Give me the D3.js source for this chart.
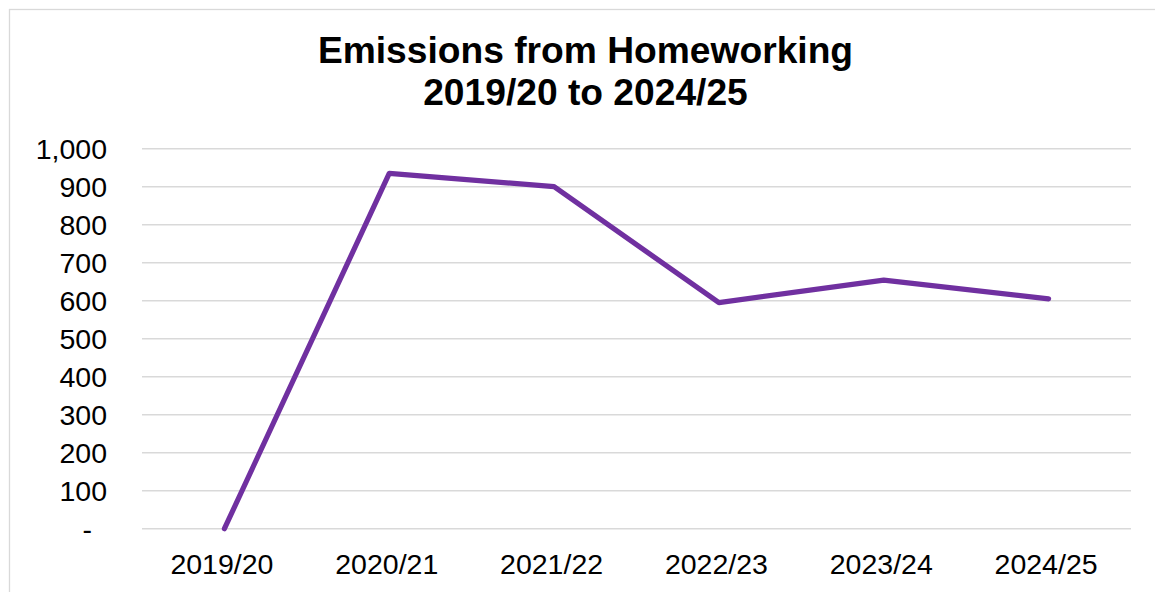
<!DOCTYPE html>
<html>
<head>
<meta charset="utf-8">
<script src="https://cdn.jsdelivr.net/npm/d3@7"></script>
<style>
  html, body { margin: 0; padding: 0; background: #fff; }
  svg { display: block; font-family: "Liberation Sans", Arial, sans-serif; }
</style>
</head>
<body>
<svg id="chart" width="1155" height="592"></svg>
<script>
const categories = ["2019/20", "2020/21", "2021/22", "2022/23", "2023/24", "2024/25"];
const emissions = [0, 935, 900, 595, 654, 605];
const yTicks = [0, 100, 200, 300, 400, 500, 600, 700, 800, 900, 1000];
const titleLines = ["Emissions from Homeworking", "2019/20 to 2024/25"];

const svg = d3.select("#chart");
const W = 1155, H = 592;
const margin = { left: 142, right: 24, top: 148.7, bottom: 63.3 };
const plotRight = W - margin.right;
const plotBottom = H - margin.bottom;

svg.append("rect")
  .attr("x", 9.5).attr("y", 9.5)
  .attr("width", 1160).attr("height", 600)
  .attr("fill", "#fff").attr("stroke", "#d9d9d9").attr("stroke-width", 1.3);

const x = d3.scalePoint().domain(categories).range([margin.left, plotRight]).padding(0.5);
const y = d3.scaleLinear().domain([0, 1000]).range([plotBottom, margin.top]);

svg.append("g").selectAll("line").data(yTicks).join("line")
  .attr("x1", margin.left).attr("x2", plotRight)
  .attr("y1", d => y(d)).attr("y2", d => y(d))
  .attr("stroke", "#d9d9d9").attr("stroke-width", 1.4);

const fmt = d3.format(",");
const yAxis = d3.axisLeft(y).tickValues(yTicks).tickSize(0).tickPadding(0)
  .tickFormat(d => d === 0 ? "-" : fmt(d));
const gy = svg.append("g").attr("transform", `translate(107,0)`).call(yAxis);
gy.select(".domain").remove();
gy.selectAll("text")
  .attr("font-size", 28.5).attr("fill", "#000")
  .attr("font-family", "'Liberation Sans', Arial, sans-serif")
  .attr("dy", "0.36em")
  .attr("x", d => d === 0 ? -15 : 0);

const xAxis = d3.axisBottom(x).tickSize(0).tickPadding(0);
const gx = svg.append("g").attr("transform", `translate(0,${plotBottom})`).call(xAxis);
gx.select(".domain").remove();
gx.selectAll("text")
  .attr("font-size", 28.5).attr("fill", "#000")
  .attr("font-family", "'Liberation Sans', Arial, sans-serif")
  .attr("dy", null)
  .attr("x", -3)
  .attr("y", 45.6);

const line = d3.line().x((d, i) => x(categories[i])).y(d => y(d));
svg.append("path")
  .datum(emissions)
  .attr("d", line)
  .attr("fill", "none")
  .attr("stroke", "#7030A0")
  .attr("stroke-width", 5.2)
  .attr("stroke-linejoin", "round")
  .attr("stroke-linecap", "round");

const title = svg.append("text")
  .attr("text-anchor", "middle")
  .attr("font-size", 37.2).attr("font-weight", "bold").attr("fill", "#000");
title.selectAll("tspan").data(titleLines).join("tspan")
  .attr("x", 585.5)
  .attr("y", (d, i) => 62.7 + i * 42.3)
  .text(d => d);
</script>
</body>
</html>
